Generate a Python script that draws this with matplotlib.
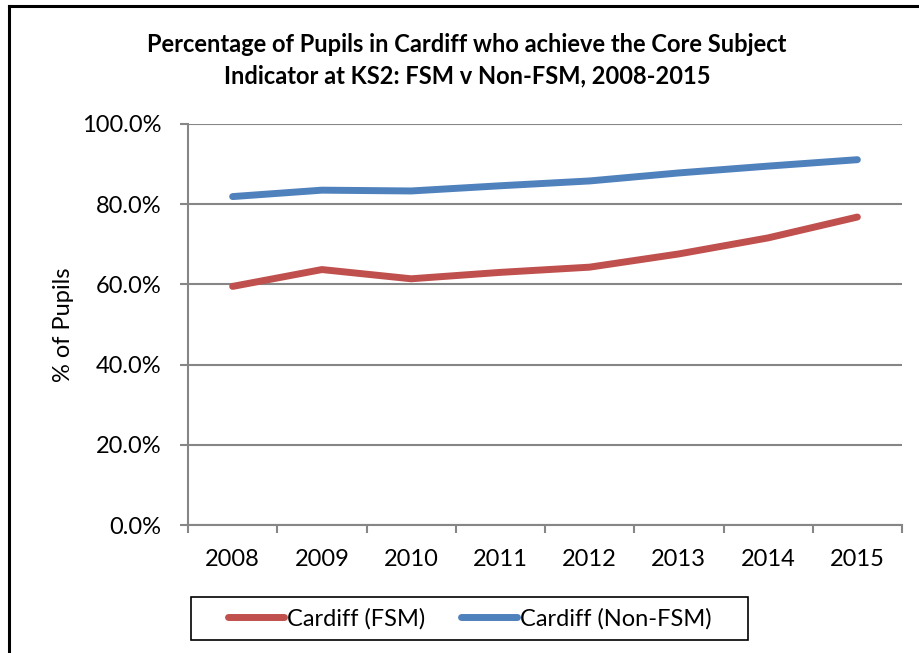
import matplotlib
matplotlib.use('Agg')
import matplotlib.pyplot as plt
from matplotlib.lines import Line2D
from matplotlib.patches import Rectangle
from matplotlib.ticker import FixedLocator, PercentFormatter

years = ['2008', '2009', '2010', '2011', '2012', '2013', '2014', '2015']
fsm = [59.5, 63.7, 61.4, 63.0, 64.3, 67.6, 71.6, 76.8]
non_fsm = [81.9, 83.5, 83.3, 84.6, 85.8, 87.8, 89.5, 91.1]

plt.rcParams['font.family'] = ['Lato', 'DejaVu Sans']

fig = plt.figure(figsize=(9.19, 6.53), dpi=100)
ax = fig.add_axes([188 / 919, 1 - 525 / 653, 714 / 919, 401 / 653])

x = list(range(len(years)))
ax.plot(x, fsm, color='#C0504D', linewidth=5, solid_capstyle='round',
        solid_joinstyle='round', label='Cardiff (FSM)')
ax.plot(x, non_fsm, color='#4F81BD', linewidth=5, solid_capstyle='round',
        solid_joinstyle='round', label='Cardiff (Non-FSM)')

grid_col = '#868686'
ax.set_xlim(-0.5, len(years) - 0.5)
ax.set_ylim(0, 100)
ax.set_yticks(range(0, 101, 20))
ax.yaxis.set_major_formatter(PercentFormatter(decimals=1))
ax.yaxis.grid(True, color=grid_col, linewidth=1.5)
ax.set_axisbelow(True)

ax.set_xticks(x)
ax.set_xticklabels(years)
ax.xaxis.set_minor_locator(FixedLocator([i - 0.5 for i in range(len(years) + 1)]))
ax.tick_params(axis='x', which='major', length=0, pad=17, labelsize=17)
ax.tick_params(axis='x', which='minor', length=6, width=1.5, color=grid_col)
ax.tick_params(axis='y', length=6, width=1.5, color=grid_col, pad=13, labelsize=17)

for side in ['top', 'right']:
    ax.spines[side].set_visible(False)
for side in ['left', 'bottom']:
    ax.spines[side].set_color(grid_col)
    ax.spines[side].set_linewidth(1.5)

ax.set_ylabel('% of Pupils', fontsize=17, labelpad=6)

fig.text(0.508, 1 - 45 / 653, 'Percentage of Pupils in Cardiff who achieve the Core Subject',
         ha='center', va='center', fontsize=17, fontweight='bold')
fig.text(0.508, 1 - 76 / 653, 'Indicator at KS2: FSM v Non-FSM, 2008-2015',
         ha='center', va='center', fontsize=17, fontweight='bold')

# legend box drawn separately, entries centred in it
box = (191 / 919, 1 - 640 / 653, 557 / 919, 43 / 653)
fig.add_artist(Rectangle(box[:2], box[2], box[3], transform=fig.transFigure,
                         fill=False, edgecolor='black', linewidth=1.2))
leg = fig.legend(loc='center', bbox_to_anchor=(box[0] + box[2] / 2, box[1] + box[3] / 2),
                 ncol=2, fontsize=17, frameon=False, handlelength=2.4,
                 handletextpad=0.1, columnspacing=1.5)

# outer chart frame (top and left edges visible)
fig.add_artist(Line2D([9 / 919, 1], [1 - 6 / 653, 1 - 6 / 653], color='black', linewidth=2.2,
                      transform=fig.transFigure))
fig.add_artist(Line2D([9 / 919, 9 / 919], [0, 1 - 6 / 653], color='black', linewidth=2.2,
                      transform=fig.transFigure))

fig.savefig('out.png', dpi=100)
